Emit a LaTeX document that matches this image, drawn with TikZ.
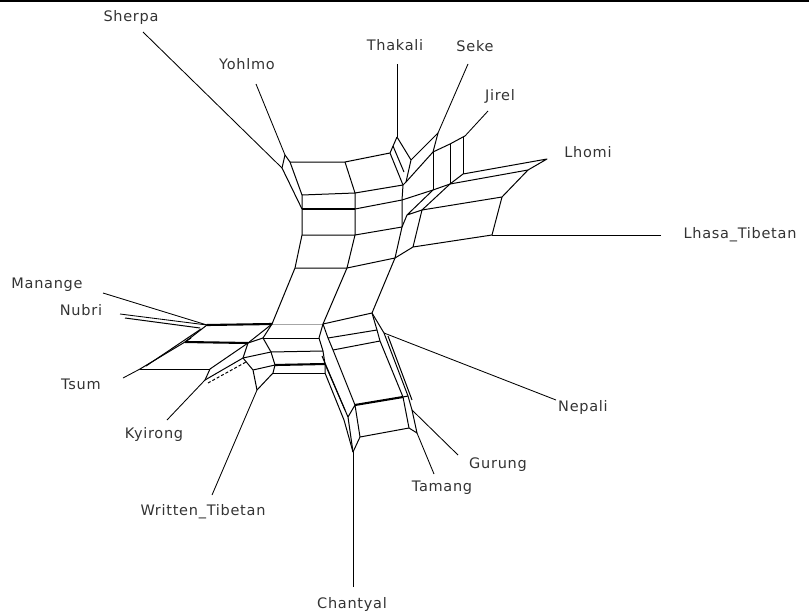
\documentclass[tikz,border=0pt]{standalone}
\usepackage{fontspec}
\setmainfont{DejaVu Sans}[LetterSpace=5]
\begin{document}
\begin{tikzpicture}[x=1pt,y=-1pt,
  net/.style={line width=1pt,line join=round},
  heavy/.style={line width=2.1pt},
  faint/.style={line width=1pt,black!35},
  leaf/.style={line width=0.85pt},
  lab/.style={font=\fontsize{14.5}{16}\selectfont,inner sep=0pt,text=black!80}]
\useasboundingbox (0,0) rectangle (809,616);
\draw[line width=1.2pt] (0,1) coordinate (tl) -- (809,1) coordinate (tr);
% ---------- labels ----------
\node[lab] (sherpa)   at (131,17)  {Sherpa};
\node[lab] (yohlmo)   at (247,64)  {Yohlmo};
\node[lab] (thakali)  at (395,45)  {Thakali};
\node[lab] (seke)     at (475,46)  {Seke};
\node[lab] (jirel)    at (500,96)  {Jirel};
\node[lab] (lhomi)    at (588,152) {Lhomi};
\node[lab] (lhasa)    at (740,235) {Lhasa\_Tibetan};
\node[lab] (manange)  at (47,285)  {Manange};
\node[lab] (nubri)    at (81,310)  {Nubri};
\node[lab] (tsum)     at (81,384)  {Tsum};
\node[lab] (kyirong)  at (154,434) {Kyirong};
\node[lab] (wtib)     at (203,512) {Written\_Tibetan};
\node[lab] (nepali)   at (583,407) {Nepali};
\node[lab] (gurung)   at (498,465) {Gurung};
\node[lab] (tamang)   at (442,488) {Tamang};
\node[lab] (chantyal) at (352,604) {Chantyal};
% ---------- vertices ----------
\foreach \n/\p in {L0/{290,162},M0/{345,162},R0/{390,153},
  L1/{302,195},M1/{355,193},R1/{403,185},
  L2/{302,209},M2/{355,209},R2/{402,200},
  L3/{302,235},M3/{355,235},R3/{402,227},
  L4/{295,268},M4/{347,268},R4/{395,258},
  L5/{272,324},M5/{323,324},R5/{372,313},
  Y/{285,155},Sh/{282,168},
  T/{397,137},TD/{411,160},TF/{406,182},Tm/{393,146},Tn/{404,172},
  S/{438,133},J/{465,136},
  V1t/{433,152},V2t/{450,144},V3t/{463,137},
  V1b/{433,190},V2b/{450,184},V3b/{463,174},
  Lh/{547,159},P1/{528,170},P2/{502,197},P3/{492,235},
  Q1/{407,215},Qm/{422,210},Q2/{413,247},
  A1/{263,338},A2/{271,352},A3/{275,365},A4/{273,373},
  B1/{319,338},B2/{323,351},B3/{325,364},B4/{325,373},
  C1/{328,338},C2/{333,350},
  D1/{377,330},D2/{380,341},D3/{384,333},
  E1/{348,417},E1b/{344,420},E2/{355,405},E3/{360,437},E4/{353,452},
  F1/{403,397},F1b/{408,396},F2/{409,428},
  G1/{412,410},G2/{417,433},
  X1/{322,356},X2/{345,410},X3/{388,336},X4/{412,400},
  W0/{207,325},W1/{185,342},W2/{140,369},W3/{210,369},
  W0b/{201,329},W1b/{191,338},W2b/{146,366},
  K0/{248,343},K1/{243,358},K2/{253,370},K3/{257,390},Ky/{205,380},Kyb/{208,383},K1b/{246,362},
  N1/{125,318},N2/{200,328},
  sherpaTip/{143,32},yohlmoTip/{256,84},thakaliTip/{397,64},
  sekeTip/{468,64},jirelTip/{488,111},lhasaTip/{661,235},
  nepaliTip/{556,400},gurungTip/{458,455},tamangTip/{434,474},
  chantyalTip/{353,587},wtTip/{212,495},kyTip/{167,420},
  tsumTip/{123,378},nubriTip/{120,314},manangeTip/{103,293}}
  {\coordinate (\n) at (\p);}
% ---------- upper trunk ----------
\draw[net] (L0) -- (M0) -- (R0);
\draw[net] (L1) -- (M1) -- (R1);
\draw[heavy] (L2) -- (M2);
\draw[net] (M2) -- (R2);
\draw[net] (L3) -- (M3) -- (R3);
\draw[net] (L4) -- (M4) -- (R4);
\draw[faint] (L5) -- (M5);
\draw[net] (M5) -- (R5);
\draw[net] (L0) -- (L1) -- (L2) -- (L3) -- (L4) -- (L5);
\draw[net] (M0) -- (M1) -- (M2) -- (M3) -- (M4) -- (M5);
\draw[net] (R0) -- (R1) -- (R2) -- (R3) -- (R4) -- (R5);
% Sherpa / Yohlmo
\draw[net] (Y) -- (L0);
\draw[net] (Y) -- (Sh) -- (L2);
% Thakali / Seke / Jirel
\draw[net] (T) -- (R0);
\draw[net] (T) -- (TD) -- (TF) -- (R1);
\draw[net] (Tm) -- (Tn);
\draw[net] (S) -- (TD);
\draw[net] (TF) -- (V1t);
\draw[net] (S) -- (V1t) -- (V2t) -- (V3t) -- (J);
\draw[net] (V1t) -- (V1b);
\draw[net] (V2t) -- (V2b);
\draw[net] (V3t) -- (V3b);
\draw[net] (V1b) -- (V2b) -- (V3b);
% Lhomi / Lhasa
\draw[net] (V3b) -- (Lh) -- (P1) -- (V2b);
\draw[net] (P1) -- (P2) -- (Qm) -- (Q1) -- (V1b);
\draw[net] (Qm) -- (V2b);
\draw[net] (Qm) -- (Q2) -- (P3) -- (P2);
\draw[net] (Q1) -- (R3);
\draw[net] (Q2) -- (R4);
\draw[net] (R2) -- (V1b);
% ---------- lower hub ----------
\draw[net] (L5) -- (K0);
\draw[net] (L5) -- (A1) -- (K0);
\draw[net] (K0) -- (K1) -- (K2) -- (K3);
\draw[net] (A1) -- (A2) -- (A3) -- (A4);
\draw[net] (K1) -- (A2);
\draw[net] (K2) -- (A3);
\draw[net] (K3) -- (A4);
\draw[net] (A1) -- (B1);
\draw[net] (A2) -- (B2);
\draw[heavy] (A3) -- (B3);
\draw[net] (A4) -- (B4);
\draw[net] (M5) -- (B1) -- (B2) -- (B3) -- (B4);
\draw[net] (M5) -- (C1) -- (C2);
\draw[net] (C1) -- (D1);
\draw[net] (C2) -- (D2);
\draw[net] (R5) -- (D1) -- (D2) -- (F1);
\draw[net] (D3) -- (F1b);
\draw[net] (R5) -- (D3);
\draw[net] (X1) -- (X2);
\draw[net] (X3) -- (X4);
\draw[net] (B3) -- (E1);
\draw[net] (B4) -- (E1b) -- (E4);
\draw[net] (C2) -- (E2);
\draw[heavy] (E2) -- (F1);
\draw[net] (F1) -- (F1b);
\draw[net] (E1) -- (E2) -- (E3) -- (F2);
\draw[net] (E1) -- (E4);
\draw[net] (E3) -- (E4);
\draw[net] (F1) -- (F2) -- (G2);
\draw[net] (F1b) -- (G1) -- (G2);
% ---------- left wing ----------
\draw[heavy] (W0) -- (L5);
\draw[heavy] (W1) -- (K0);
\draw[net] (W2) -- (W3);
\draw[net] (W0) -- (W1) -- (W2);
\draw[net] (W0b) -- (W2b);
\draw[net] (W1b) -- (W1);
\draw[net] (K0) -- (W3) -- (Ky);
\draw[net] (Ky) -- (K1);
\draw[net,densely dashed] (Kyb) -- (K1b);
\draw[net] (N1) -- (N2);
% ---------- leaves ----------
\draw[leaf] (sherpaTip) -- (Sh);
\draw[leaf] (yohlmoTip) -- (Y);
\draw[leaf] (thakaliTip) -- (T);
\draw[leaf] (sekeTip) -- (S);
\draw[leaf] (jirelTip) -- (J);
\draw[leaf] (lhasaTip) -- (P3);
\draw[leaf] (nepaliTip) -- (D3);
\draw[leaf] (gurungTip) -- (G1);
\draw[leaf] (tamangTip) -- (G2);
\draw[leaf] (chantyalTip) -- (E4);
\draw[leaf] (wtTip) -- (K3);
\draw[leaf] (kyTip) -- (Ky);
\draw[leaf] (tsumTip) -- (W2);
\draw[leaf] (nubriTip) -- (W0);
\draw[leaf] (manangeTip) -- (W0);
\end{tikzpicture}
\end{document}
